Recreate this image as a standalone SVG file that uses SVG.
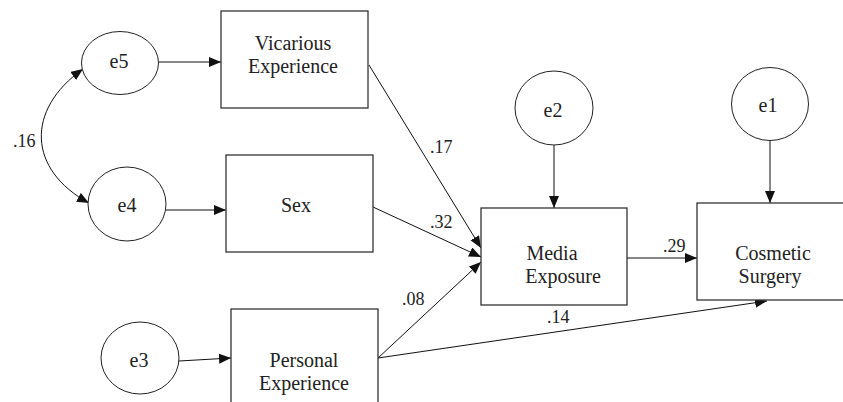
<svg xmlns="http://www.w3.org/2000/svg" width="843" height="402" viewBox="0 0 843 402">
<style>
.box{fill:#fff;stroke:#333;stroke-width:1.3}
.err{fill:#fff;stroke:#222;stroke-width:1}
.t{font-size:20px;fill:#222;text-anchor:middle}
.lb{font-size:18px;fill:#222}
.c{fill:none;stroke:#111;stroke-width:1;marker-end:url(#ah)}
</style>
<defs>
<marker id="ah" markerUnits="userSpaceOnUse" markerWidth="13" markerHeight="11" refX="12" refY="5" orient="auto-start-reverse" viewBox="0 0 13 11">
<path d="M0,0 L12,5 L0,10 z" fill="#111"/>
</marker>
</defs>
<rect width="843" height="402" fill="#fff"/>
<g id="connectors" font-family="'Liberation Serif', 'Tinos', 'DejaVu Serif', serif">
<path class="c" d="M159,62 L221,62"/>
<path class="c" d="M166,210 L226,210"/>
<path class="c" d="M179,361 L231,358"/>
<path class="c" d="M554,145 L554,208"/>
<path class="c" d="M770,141 L770,203"/>
<path class="c" d="M369,65 L481,248"/>
<path class="c" d="M373,207 L481,257"/>
<path class="c" d="M378,358 L481,262"/>
<path class="c" d="M378,358 L767,301"/>
<path class="c" d="M627,258 L697,258"/>
<path class="c" style="marker-start:url(#ah)" d="M83,69 C25,110 28,170 89,203"/>
<text class="lb" x="13" y="147">.16</text>
<text class="lb" x="430" y="153">.17</text>
<text class="lb" x="430" y="228">.32</text>
<text class="lb" x="402" y="305">.08</text>
<text class="lb" x="663" y="252">.29</text>
<text class="lb" x="547" y="323">.14</text>
</g>
<g font-family="'Liberation Serif', 'Tinos', 'DejaVu Serif', serif">
<g id="e5"><ellipse class="err" cx="120" cy="63" rx="38.5" ry="31.5"/><text class="t" x="119" y="68">e5</text></g>
<g id="e4"><ellipse class="err" cx="127" cy="204" rx="39" ry="37"/><text class="t" x="127" y="212">e4</text></g>
<g id="e3"><ellipse class="err" cx="140" cy="358" rx="39" ry="36"/><text class="t" x="139" y="367">e3</text></g>
<g id="e2"><ellipse class="err" cx="554" cy="108" rx="39" ry="37"/><text class="t" x="553" y="117">e2</text></g>
<g id="e1"><ellipse class="err" cx="770" cy="104" rx="38.5" ry="36.5"/><text class="t" x="768" y="112">e1</text></g>
<g id="vicarious"><rect class="box" x="221" y="11" width="147" height="97"/><text class="t" x="293" y="50">Vicarious</text><text class="t" x="293" y="73">Experience</text></g>
<g id="sex"><rect class="box" x="226" y="155" width="147" height="97"/><text class="t" x="296" y="212">Sex</text></g>
<g id="personal"><rect class="box" x="231" y="309" width="147" height="97"/><text class="t" x="304" y="367">Personal</text><text class="t" x="304" y="390">Experience</text></g>
<g id="media"><rect class="box" x="481" y="208" width="146" height="97"/><text class="t" x="552" y="260">Media</text><text class="t" x="563" y="283">Exposure</text></g>
<g id="cosmetic"><rect class="box" x="697" y="203" width="150" height="97"/><text class="t" x="773" y="260">Cosmetic</text><text class="t" x="770" y="283">Surgery</text></g>
</g>
</svg>
